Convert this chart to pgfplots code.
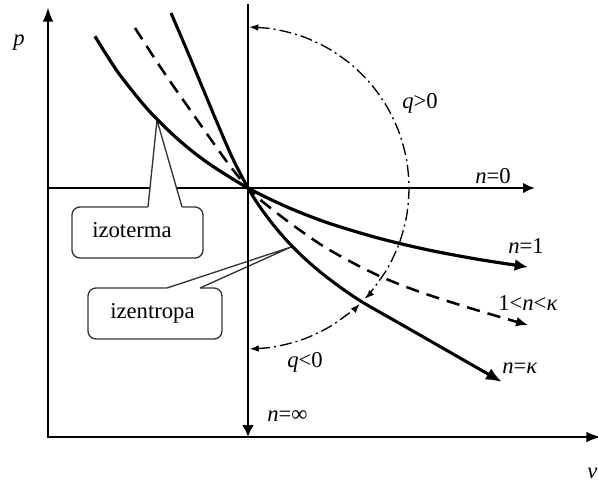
\documentclass[border=0pt]{standalone}
\usepackage{fontspec}
\setmainfont{Liberation Serif}
\usepackage{pgfplots}
\pgfplotsset{compat=1.18}
\usetikzlibrary{arrows.meta}

\begin{document}
\begin{tikzpicture}[lbl/.style={font=\fontsize{17pt}{20pt}\selectfont, inner sep=0pt, anchor=base west}]
\begin{axis}[
    width=448.5pt, height=361.5pt, scale only axis,
    xmin=0, xmax=598, ymin=0, ymax=482, y dir=reverse,
    hide axis, clip=false
]

% outer axes p and v
\addplot[line width=1.8pt, {Latex[length=11pt,width=8pt]}-{Latex[length=11pt,width=8pt]}]
    coordinates {(601,437) (48,437) (48,7)};
% n=0 line
\addplot[line width=1.8pt, -{Latex[length=9pt,width=8pt]}]
    coordinates {(48,188) (535,188)};

% callout: izoterma
\addplot[draw=black!80, fill=white, line width=1pt, rounded corners=6pt]
    coordinates {(72,207) (203,207) (203,258) (72,258)} -- cycle;
\addplot[draw=none, fill=white] coordinates {(147,210) (148,207) (157,120) (182,207) (183,210)} -- cycle;
\addplot[draw=black!80, line width=1pt] coordinates {(148,207) (157,120) (182,207)};

% callout: izentropa
\addplot[draw=black!80, fill=white, line width=1pt, rounded corners=6pt]
    coordinates {(88,288) (222,288) (222,339) (88,339)} -- cycle;
\addplot[draw=none, fill=white] coordinates {(166,291) (167,288) (291,247) (200,288) (201,291)} -- cycle;
\addplot[draw=black!80, line width=1pt] coordinates {(167,288) (291,247) (200,288)};

% n=infinity line
\addplot[line width=1.8pt, -{Latex[length=9pt,width=9pt]}]
    coordinates {(248,4) (248,437)};

% isotherm n=1
\addplot[line width=2.4pt, smooth, -{Latex[length=10pt,width=9pt]}] coordinates {
    (95,36.3) (118,72.3) (148,109.7) (178,139.3) (208,163.0) (248,188)
    (288,207.4) (328,222.9) (378,238.0) (428,249.9) (478,259.3) (528,267.0)};

% polytrope 1<n<kappa
\addplot[line width=1.9pt, smooth, dash pattern=on 10pt off 6pt, -{Latex[length=9pt,width=7.5pt]}] coordinates {
    (135,28) (155,59) (174,87) (193,114) (212,141) (230,166) (248,188)
    (263,202) (290,223) (323,246) (355,264) (384,278) (420,292) (460,305) (500,317) (528,325)};

% isentrope n=kappa
\addplot[line width=2.3pt, smooth, -{Latex[length=12pt,width=9.5pt]}] coordinates {
    (171,13) (186,48) (201,84) (216,120) (232,157) (248,188)
    (260,207) (275,227) (290,244) (306,259.7) (323,274.2) (343,289.2) (363,302.5)
    (395,320.8) (430,340.8) (463,359.7) (502,382)};

% q>0 arc
\addplot[line width=1pt, smooth, dash pattern=on 9pt off 3pt on 1.5pt off 3pt,
    {Latex[length=7pt,width=5pt]}-{Latex[length=7pt,width=5pt]}] coordinates {
    (249,27) (276.0,29.5) (303.1,36.7) (328.5,48.6) (351.5,64.7) (371.3,84.5)
    (387.4,107.5) (399.3,132.9) (406.6,160.0) (409,188) (406.6,216.0)
    (399.3,243.1) (387.4,268.5) (371.3,291.5) (364.8,298.8)};

% q<0 arc
\addplot[line width=1pt, smooth, dash pattern=on 9pt off 3pt on 1.5pt off 3pt,
    {Latex[length=7pt,width=5pt]}-{Latex[length=7pt,width=5pt]}] coordinates {
    (249.5,349) (276.0,346.5) (303.1,339.3) (328.5,327.4) (351.5,311.3) (359.8,303.8)};

% labels
\node[lbl] at (axis cs:13,45) {\textit{p}};
\node[lbl] at (axis cs:587,478) {\textit{v}};
\node[lbl] at (axis cs:402,108) {\textit{q}>0};
\node[lbl] at (axis cs:475,183) {\textit{n}=0};
\node[lbl] at (axis cs:508,253) {\textit{n}=1};
\node[lbl] at (axis cs:498,310) {1<\textit{n}<\textit{κ}};
\node[lbl] at (axis cs:502,373) {\textit{n}=\textit{κ}};
\node[lbl] at (axis cs:287,367) {\textit{q}<0};
\node[lbl] at (axis cs:267,421) {\textit{n}=∞};
\node[lbl] at (axis cs:92,237) {izoterma};
\node[lbl] at (axis cs:110,318) {izentropa};

\end{axis}
\pgfresetboundingbox
\path[use as bounding box] (0,0) rectangle (448.5pt,361.5pt);
\end{tikzpicture}
\end{document}
